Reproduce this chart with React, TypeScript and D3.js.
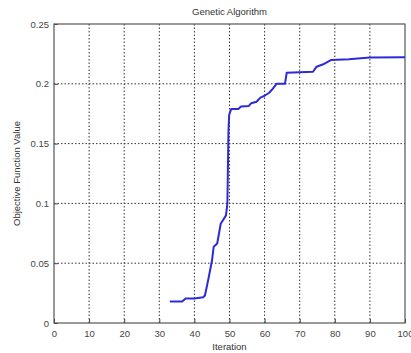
import React, { useEffect, useRef } from "react";
import * as d3 from "d3";

// Best objective value per iteration
const iterations = [
  33, 36.5, 37.5, 40, 42.5, 43, 44, 45, 45.5, 46.5, 47.5, 49, 49.4, 49.7, 49.9,
  50.5, 52.5, 53.3, 55.5, 56.2, 57.7, 58.8, 60, 61.3, 62.3, 63.4, 65.8, 66.3,
  73.8, 74.8, 76.7, 79, 84, 90, 100,
];
const values = [
  0.018, 0.018, 0.0205, 0.0205, 0.0215, 0.023, 0.037, 0.052, 0.0638, 0.0665,
  0.083, 0.09, 0.1, 0.16, 0.174, 0.179, 0.179, 0.181, 0.1815, 0.1838, 0.185,
  0.1885, 0.19, 0.1925, 0.1957, 0.2, 0.2, 0.2093, 0.2101, 0.2143, 0.2163, 0.22,
  0.2206, 0.222, 0.2223,
];

const xTicks = [0, 10, 20, 30, 40, 50, 60, 70, 80, 90, 100];
const yTicks = [0, 0.05, 0.1, 0.15, 0.2, 0.25];

const title = "Genetic Algorithm";
const xLabel = "Iteration";
const yLabel = "Objective Function Value";

const width = 411;
const height = 353;

const App: React.FC = () => {
  const svgRef = useRef<SVGSVGElement>(null);

  useEffect(() => {
    if (!svgRef.current) return;
    d3.select(svgRef.current).selectAll("*").remove();

    const margin = { top: 24, right: 6, bottom: 30, left: 54 };
    const innerWidth = width - margin.left - margin.right;
    const innerHeight = height - margin.top - margin.bottom;

    const svg = d3
      .select(svgRef.current)
      .attr("width", width)
      .attr("height", height)
      .style("font-family", "Arial, 'Liberation Sans', sans-serif");

    svg.append("rect").attr("width", width).attr("height", height).attr("fill", "#fff");

    const g = svg
      .append("g")
      .attr("transform", `translate(${margin.left},${margin.top})`);

    const x = d3.scaleLinear().domain([0, 100]).range([0, innerWidth]);
    const y = d3.scaleLinear().domain([0, 0.25]).range([innerHeight, 0]);

    // dotted grid
    g.append("g")
      .selectAll("line")
      .data(xTicks.slice(1, -1))
      .enter()
      .append("line")
      .attr("x1", (d) => x(d))
      .attr("x2", (d) => x(d))
      .attr("y1", 0)
      .attr("y2", innerHeight)
      .attr("stroke", "#333")
      .attr("stroke-width", 1)
      .attr("stroke-dasharray", "1.5,2");

    g.append("g")
      .selectAll("line")
      .data(yTicks.slice(1, -1))
      .enter()
      .append("line")
      .attr("x1", 0)
      .attr("x2", innerWidth)
      .attr("y1", (d) => y(d))
      .attr("y2", (d) => y(d))
      .attr("stroke", "#333")
      .attr("stroke-width", 1)
      .attr("stroke-dasharray", "1.5,2");

    // axes with inward ticks
    const xAxis = g
      .append("g")
      .attr("transform", `translate(0,${innerHeight})`)
      .call(
        d3
          .axisBottom(x)
          .tickValues(xTicks)
          .tickFormat(d3.format("d"))
          .tickSizeInner(-4)
          .tickSizeOuter(0)
          .tickPadding(7)
      );
    const yAxis = g.append("g").call(
      d3
        .axisLeft(y)
        .tickValues(yTicks)
        .tickFormat((d) => String(+d))
        .tickSizeInner(-4)
        .tickSizeOuter(0)
        .tickPadding(5)
    );
    [xAxis, yAxis].forEach((a) => {
      a.select(".domain").remove();
      a.selectAll("line").attr("stroke", "#444");
      a.selectAll("text").attr("fill", "#444").style("font-size", "9.5px");
    });

    // frame
    g.append("rect")
      .attr("width", innerWidth)
      .attr("height", innerHeight)
      .attr("fill", "none")
      .attr("stroke", "#555")
      .attr("stroke-width", 1.2);

    // data line
    const pts = iterations.map((it, i) => [it, values[i]] as [number, number]);
    const line = d3
      .line<[number, number]>()
      .x((d) => x(d[0]))
      .y((d) => y(d[1]));
    g.append("path")
      .datum(pts)
      .attr("d", line)
      .attr("fill", "none")
      .attr("stroke", "#2c2cd6")
      .attr("stroke-width", 2)
      .attr("stroke-linejoin", "round");

    // title and labels
    svg
      .append("text")
      .attr("x", margin.left + innerWidth / 2)
      .attr("y", 15)
      .attr("text-anchor", "middle")
      .attr("fill", "#333")
      .style("font-size", "9.5px")
      .text(title);

    svg
      .append("text")
      .attr("x", margin.left + innerWidth / 2)
      .attr("y", height - 3)
      .attr("text-anchor", "middle")
      .attr("fill", "#333")
      .style("font-size", "9.5px")
      .text(xLabel);

    svg
      .append("text")
      .attr("transform", "rotate(-90)")
      .attr("x", -(margin.top + innerHeight / 2))
      .attr("y", 20)
      .attr("text-anchor", "middle")
      .attr("fill", "#333")
      .style("font-size", "9.5px")
      .text(yLabel);
  }, []);

  return (
    <svg
      ref={svgRef}
      style={{ position: "absolute", left: 0, top: 0, display: "block" }}
    />
  );
};

export default App;
